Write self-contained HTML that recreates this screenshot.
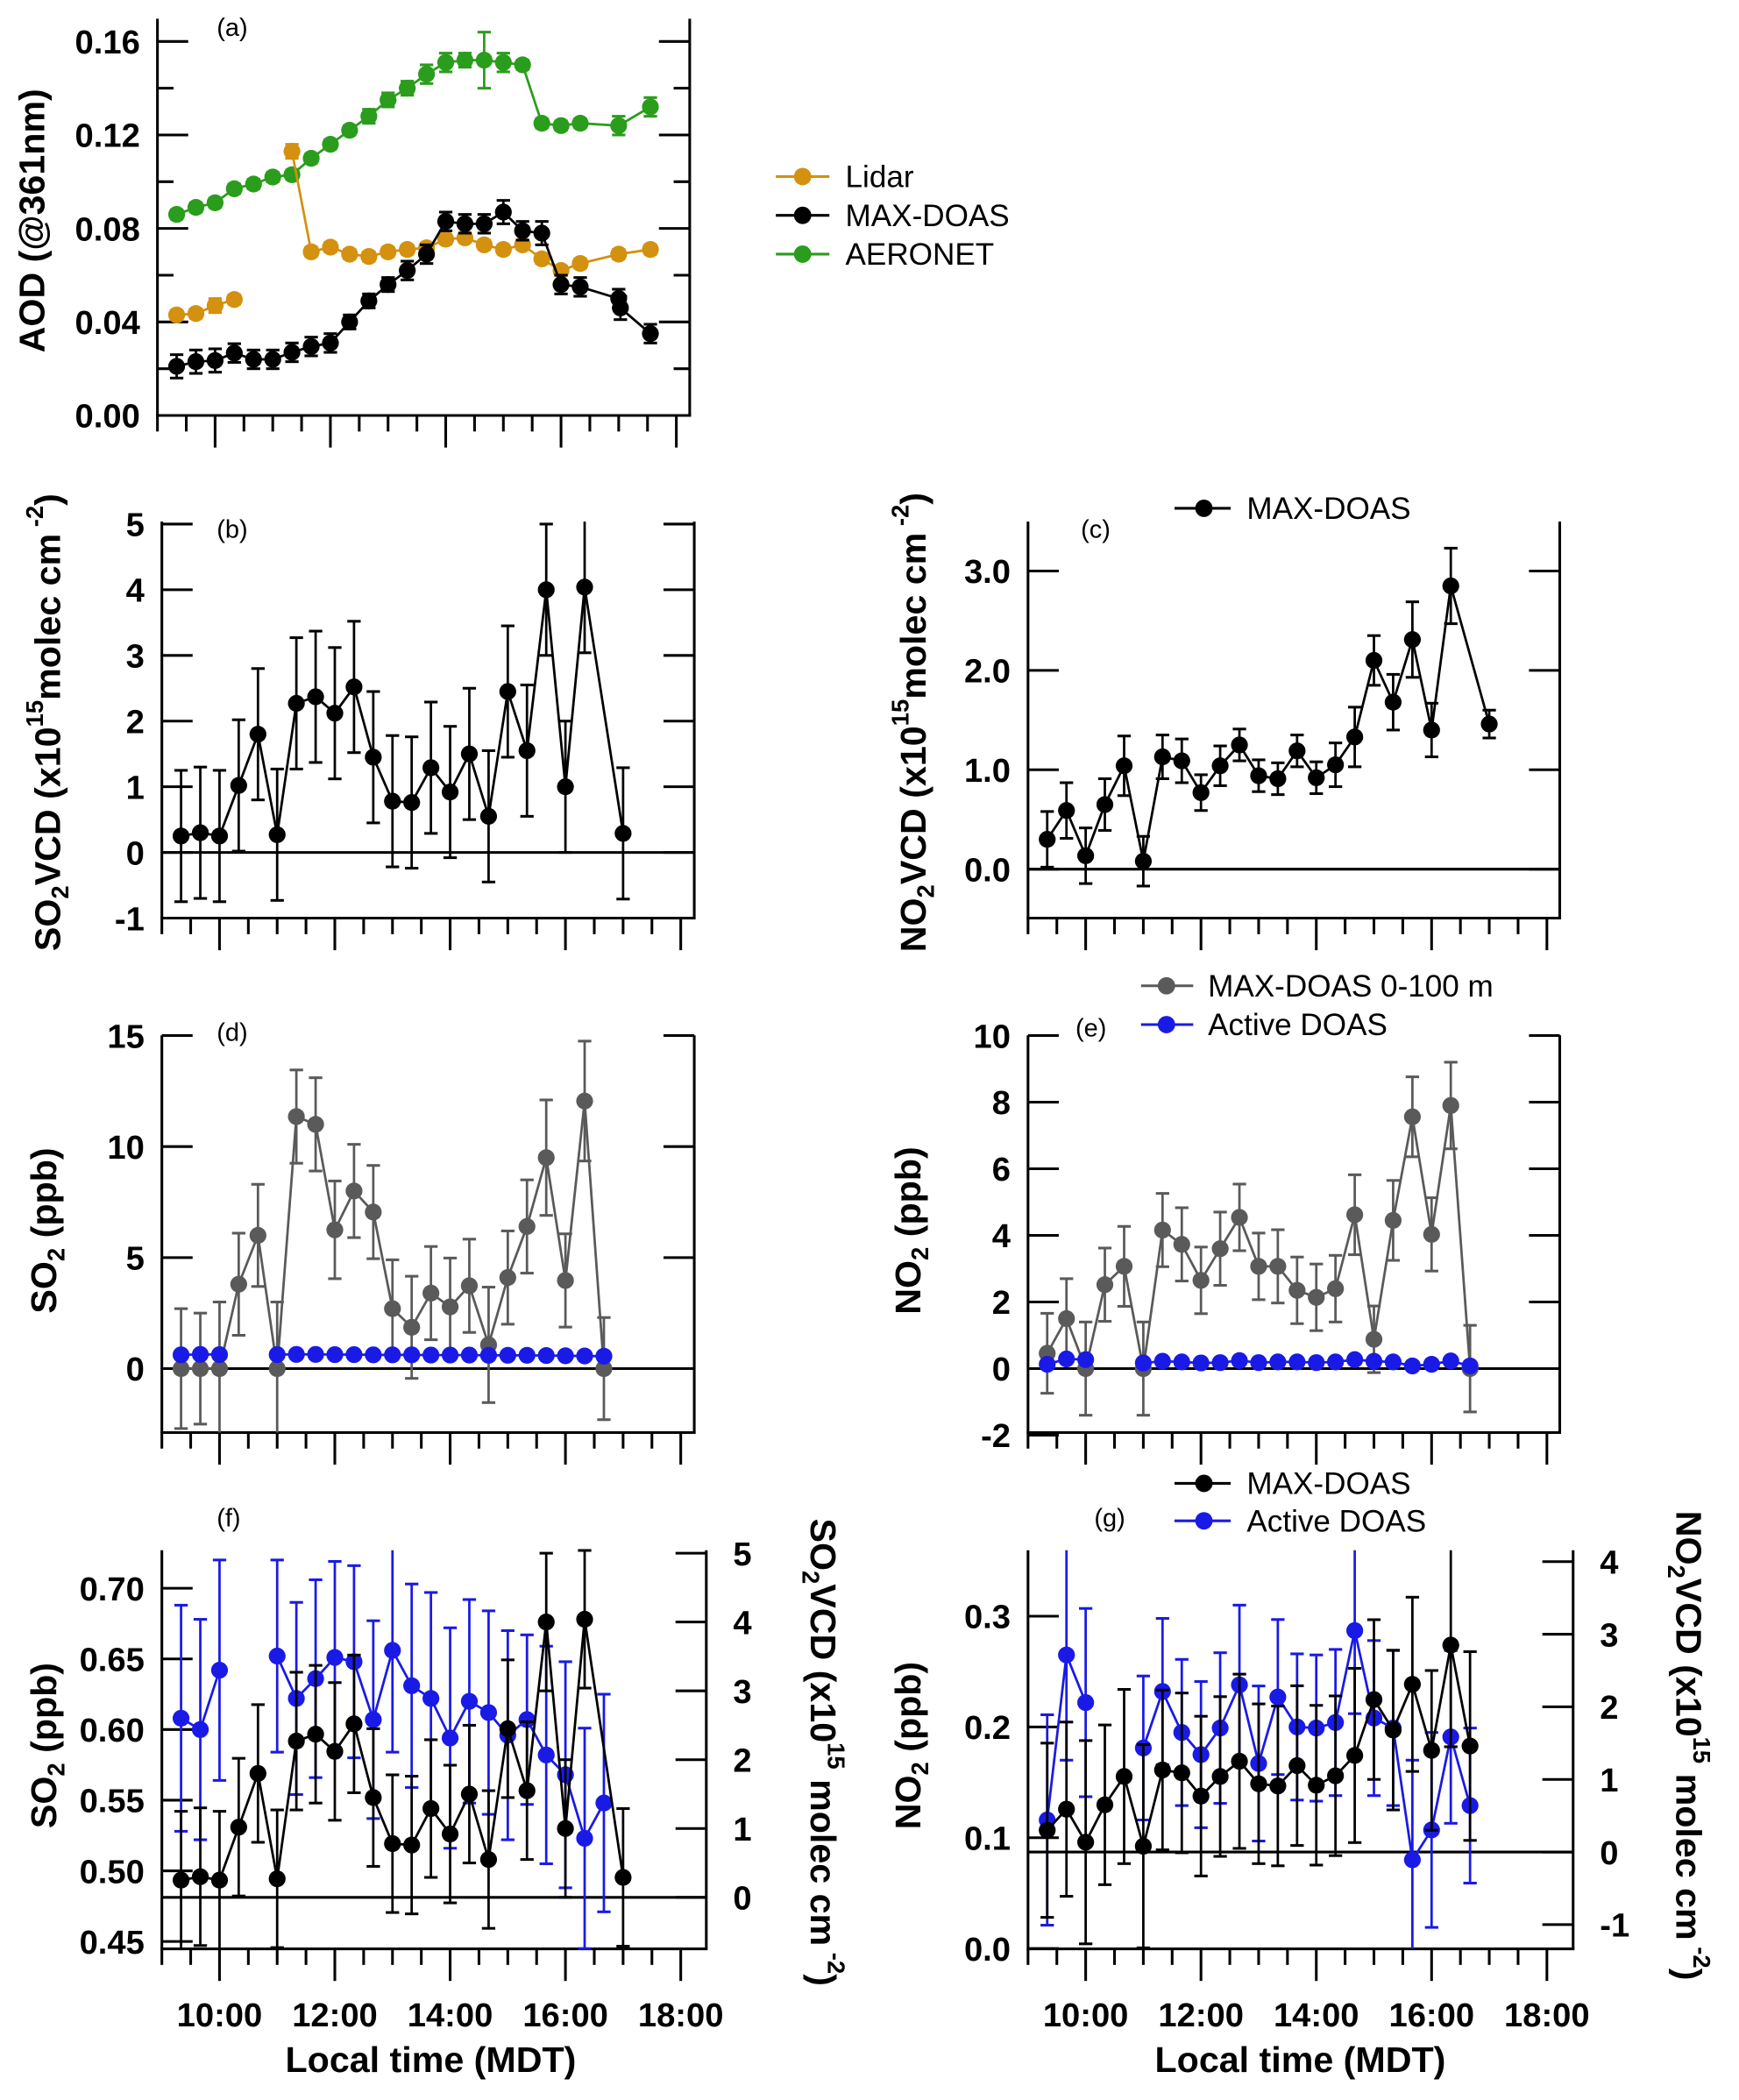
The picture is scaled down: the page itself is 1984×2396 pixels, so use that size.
<!DOCTYPE html>
<html><head><meta charset="utf-8"><title>AOD, SO2 and NO2 time series (panels a–g)</title>
<style>
html,body{margin:0;padding:0;background:#fff;}
svg{display:block;font-family:"Liberation Sans",Arial,sans-serif;}
.tk{font-weight:bold;font-size:25px;}
.ttl{font-weight:bold;font-size:27px;}
.lg{font-size:23px;}
.pl{font-size:19px;}
</style></head>
<body>
<svg id="fig" width="1984" height="2396" viewBox="0 0 1300 1570" preserveAspectRatio="none" xmlns="http://www.w3.org/2000/svg">
<rect x="0" y="0" width="1300" height="1570" fill="#fff"/>
<g id="marks"></g>

<text class="pl" x="162" y="27">(a)</text>
<text class="pl" x="162" y="402">(b)</text>
<text class="pl" x="808" y="402">(c)</text>
<text class="pl" x="162" y="778">(d)</text>
<text class="pl" x="804" y="775">(e)</text>
<text class="pl" x="162" y="1141">(f)</text>
<text class="pl" x="818" y="1141">(g)</text>

<text class="ttl" transform="translate(33,165) rotate(-90)" text-anchor="middle">AOD (@361nm)</text>
<text class="ttl" transform="translate(45,540) rotate(-90)" text-anchor="middle">SO<tspan font-size="18" dy="6">2</tspan><tspan dy="-6">VCD (x10</tspan><tspan font-size="18" dy="-13">15</tspan><tspan dy="13">molec cm</tspan><tspan font-size="18" dy="-13"> -2</tspan><tspan dy="13">)</tspan></text>
<text class="ttl" transform="translate(692,540) rotate(-90)" text-anchor="middle">NO<tspan font-size="18" dy="6">2</tspan><tspan dy="-6">VCD (x10</tspan><tspan font-size="18" dy="-13">15</tspan><tspan dy="13">molec cm</tspan><tspan font-size="18" dy="-13"> -2</tspan><tspan dy="13">)</tspan></text>
<text class="ttl" transform="translate(42,920) rotate(-90)" text-anchor="middle">SO<tspan font-size="18" dy="6">2</tspan><tspan dy="-6"> (ppb)</tspan></text>
<text class="ttl" transform="translate(688,920) rotate(-90)" text-anchor="middle">NO<tspan font-size="18" dy="6">2</tspan><tspan dy="-6"> (ppb)</tspan></text>
<text class="ttl" transform="translate(42,1305) rotate(-90)" text-anchor="middle">SO<tspan font-size="18" dy="6">2</tspan><tspan dy="-6"> (ppb)</tspan></text>
<text class="ttl" transform="translate(606,1310) rotate(90)" text-anchor="middle">SO<tspan font-size="18" dy="6">2</tspan><tspan dy="-6">VCD (x10</tspan><tspan font-size="18" dy="-13">15</tspan><tspan dy="13"> molec cm</tspan><tspan font-size="18" dy="-13"> -2</tspan><tspan dy="13">)</tspan></text>
<text class="ttl" transform="translate(688,1305) rotate(-90)" text-anchor="middle">NO<tspan font-size="18" dy="6">2</tspan><tspan dy="-6"> (ppb)</tspan></text>
<text class="ttl" transform="translate(1253,1305) rotate(90)" text-anchor="middle">NO<tspan font-size="18" dy="6">2</tspan><tspan dy="-6">VCD (x10</tspan><tspan font-size="18" dy="-13">15</tspan><tspan dy="13"> molec cm</tspan><tspan font-size="18" dy="-13"> -2</tspan><tspan dy="13">)</tspan></text>
<text class="ttl" x="322" y="1549" font-size="26" text-anchor="middle">Local  time (MDT)</text>
<text class="ttl" x="972" y="1549" font-size="26" text-anchor="middle">Local  time (MDT)</text>

<g>
 <line x1="580" y1="132" x2="620" y2="132" stroke="#d4900f" stroke-width="2"/><circle cx="600" cy="132" r="6.5" fill="#d4900f"/>
 <text class="lg" x="632" y="140">Lidar</text>
 <line x1="580" y1="161" x2="620" y2="161" stroke="#000" stroke-width="2"/><circle cx="600" cy="161" r="6.5" fill="#000"/>
 <text class="lg" x="632" y="169">MAX-DOAS</text>
 <line x1="580" y1="190" x2="620" y2="190" stroke="#2a9d1c" stroke-width="2"/><circle cx="600" cy="190" r="6.5" fill="#2a9d1c"/>
 <text class="lg" x="632" y="198">AERONET</text>
</g>
<g>
 <line x1="878" y1="380" x2="920" y2="380" stroke="#000" stroke-width="2"/><circle cx="900" cy="380" r="6.5" fill="#000"/>
 <text class="lg" x="932" y="388">MAX-DOAS</text>
</g>
<g>
 <line x1="853" y1="737" x2="892" y2="737" stroke="#5a5a5a" stroke-width="2"/><circle cx="872" cy="737" r="6.5" fill="#5a5a5a"/>
 <text class="lg" x="903" y="745">MAX-DOAS 0-100 m</text>
 <line x1="853" y1="766" x2="892" y2="766" stroke="#1a1ae6" stroke-width="2"/><circle cx="872" cy="766" r="6.5" fill="#1a1ae6"/>
 <text class="lg" x="903" y="774">Active DOAS</text>
</g>
<g>
 <line x1="878" y1="1109" x2="920" y2="1109" stroke="#000" stroke-width="2"/><circle cx="900" cy="1109" r="6.5" fill="#000"/>
 <text class="lg" x="932" y="1117">MAX-DOAS</text>
 <line x1="878" y1="1137" x2="920" y2="1137" stroke="#1a1ae6" stroke-width="2"/><circle cx="900" cy="1137" r="6.5" fill="#1a1ae6"/>
 <text class="lg" x="932" y="1145">Active DOAS</text>
</g>
</svg>

<script>
const T22 = [9.333,9.667,10,10.333,10.667,11,11.333,11.667,12,12.333,12.667,13,13.333,13.667,14,14.333,14.667,15,15.333,15.667,16,16.333];
const T23 = T22.concat([16.667]);
const aMaxT = T22.concat([17.0,17.03,17.55]);
const aMaxV = [0.021,0.023,0.0235,0.0267,0.024,0.024,0.027,0.0295,0.031,0.040,0.049,0.056,0.062,0.069,0.083,0.082,0.082,0.087,0.079,0.078,0.056,0.055,0.050,0.046,0.035];
const aMaxE = [0.005,0.005,0.005,0.004,0.004,0.004,0.004,0.004,0.004,0.003,0.003,0.003,0.004,0.004,0.004,0.004,0.004,0.005,0.004,0.005,0.004,0.004,0.004,0.005,0.004];
const aAerT = T22.concat([17.0,17.55]);
const aAerV = [0.086,0.089,0.091,0.097,0.099,0.102,0.103,0.110,0.116,0.122,0.128,0.135,0.140,0.146,0.151,0.152,0.152,0.151,0.150,0.125,0.124,0.125,0.124,0.132];
const aAerE = [0.002,0.002,0.002,0.002,0.002,0.002,0.002,0.002,0.002,0.002,0.003,0.003,0.003,0.004,0.004,0.003,0.012,0.004,0.002,0.002,0.002,0.002,0.004,0.004];
const aLidT = T22.concat([17.0,17.55]);
const aLidV = [0.043,0.0436,0.047,0.0496,null,null,0.113,0.070,0.072,0.069,0.068,0.070,0.071,0.0717,0.0754,0.076,0.073,0.071,0.073,0.067,0.062,0.065,0.069,0.071];
const aLidE = [0.002,0.002,0.003,0.002,0,0,0.003,0.002,0.002,0.002,0.002,0.002,0.002,0.002,0.002,0.002,0.002,0.002,0.002,0.002,0.002,0.002,0.002,0.002];
const bT = T22.concat([17.0]);
const bV = [0.25,0.3,0.25,1.02,1.8,0.27,2.27,2.37,2.12,2.52,1.45,0.78,0.76,1.29,0.92,1.5,0.55,2.45,1.55,4.0,1.0,4.04,0.29];
const bE = [1.0,1.0,1.0,1.0,1.0,1.0,1.0,1.0,1.0,1.0,1.0,1.0,1.0,1.0,1.0,1.0,1.0,1.0,1.0,1.0,1.0,1.0,1.0];
const cT = T22.concat([17.0]);
const cV = [0.30,0.59,0.135,0.65,1.04,0.08,1.13,1.09,0.77,1.04,1.25,0.94,0.91,1.19,0.92,1.05,1.33,2.10,1.68,2.31,1.40,2.85,1.46];
const cE = [0.28,0.28,0.28,0.26,0.3,0.25,0.22,0.22,0.18,0.2,0.16,0.16,0.16,0.16,0.16,0.22,0.3,0.25,0.28,0.38,0.27,0.38,0.14];
const dGrayV = [0,0,0,3.8,6.0,0,11.35,11.0,6.25,8.0,7.05,2.7,1.86,3.4,2.78,3.73,1.07,4.1,6.4,9.5,3.97,12.05,0];
const dGrayE = [2.7,2.5,3.0,2.3,2.3,3.0,2.1,2.1,2.2,2.1,2.1,2.2,2.3,2.1,2.2,2.1,2.6,2.1,2.1,2.6,2.1,2.7,2.3];
const dBlueV = [0.62,0.64,0.63,null,null,0.63,0.64,0.64,0.63,0.63,0.62,0.62,0.62,0.61,0.61,0.61,0.6,0.6,0.6,0.59,0.58,0.57,0.56];
const eGrayV = [0.46,1.5,0.0,2.52,3.07,0,4.16,3.73,2.65,3.6,4.54,3.07,3.07,2.35,2.14,2.4,4.62,0.88,4.45,7.56,4.03,7.9,0];
const eGrayE = [1.2,1.2,1.4,1.1,1.2,1.4,1.1,1.1,1.0,1.1,1.0,1.0,1.1,1.0,1.0,1.0,1.2,1.0,1.2,1.2,1.1,1.3,1.3];
const eBlueV = [0.13,0.29,0.27,null,null,0.17,0.22,0.2,0.17,0.18,0.24,0.18,0.2,0.2,0.18,0.2,0.27,0.22,0.2,0.08,0.13,0.23,0.08];
const fBlueV = [0.608,0.600,0.642,null,null,0.652,0.622,0.636,0.651,0.648,0.607,0.656,0.631,0.622,0.594,0.620,0.612,0.596,0.607,0.582,0.568,0.523,0.548];
const fBlueE = [0.08,0.078,0.078,0,0,0.068,0.068,0.07,0.068,0.068,0.07,0.072,0.072,0.075,0.078,0.072,0.072,0.074,0.06,0.077,0.08,0.078,0.077];
const gBlackV = [0.30,0.59,0.135,0.65,1.04,0.08,1.13,1.09,0.77,1.04,1.25,0.94,0.91,1.19,0.92,1.05,1.33,2.10,1.68,2.31,1.40,2.85,1.46];
const gBlackE = [1.2,1.2,1.4,1.1,1.2,1.4,1.1,1.1,1.1,1.1,1.2,1.1,1.1,1.1,1.1,1.1,1.2,1.1,1.1,1.2,1.1,1.4,1.3];
const gBlueV = [0.116,0.265,0.222,null,null,0.181,0.232,0.195,0.175,0.199,0.238,0.167,0.227,0.200,0.199,0.204,0.287,0.208,0.199,0.080,0.107,0.191,0.129];
const gBlueE = [0.095,0.095,0.085,0,0,0.065,0.066,0.066,0.066,0.068,0.072,0.07,0.07,0.066,0.066,0.066,0.075,0.07,0.07,0.09,0.088,0.078,0.07];
const aTicks = [0,0.04,0.08,0.12,0.16], aTickLbl = ["0.00","0.04","0.08","0.12","0.16"];
const bTicks = [-1,0,1,2,3,4,5];
const cTicks = [0,1,2,3], cTickLbl = ["0.0","1.0","2.0","3.0"];
const dTicks = [0,5,10,15];
const eTicks = [-2,0,2,4,6,8,10];
const fLTicks = [0.45,0.50,0.55,0.60,0.65,0.70], fLLbl = ["0.45","0.50","0.55","0.60","0.65","0.70"];
const fRTicks = [0,1,2,3,4,5];
const gLTicks = [0,0.1,0.2,0.3], gLLbl = ["0.0","0.1","0.2","0.3"];
const gRTicks = [-1,0,1,2,3,4];
const xMajor = [10,12,14,16,18], xMajorLbl = ["10:00","12:00","14:00","16:00","18:00"];

const NS = "http://www.w3.org/2000/svg";
const root = document.getElementById('marks');
function mk(tag, attrs, parent){
  const el = document.createElementNS(NS, tag);
  for (const k in attrs) el.setAttribute(k, attrs[k]);
  (parent || root).appendChild(el);
  return el;
}
function lin(v1,p1,v2,p2){ return v => p1 + (v - v1) * (p2 - p1) / (v2 - v1); }
const PXH = 43.1;

function panel(id, x9, xR, yTop, yBot, yl, yr){
  const P = {id, x9, xR, yTop, yBot, yl, yr};
  P.xs = t => x9 + (t - 9) * PXH;
  const g = mk('g', {});
  
  
  P.g = g;
  let el = mk('line', {x1:x9, y1:yTop, x2:x9, y2:yBot, stroke:'#000', 'stroke-width':2}, g);
  
  
  el = mk('line', {x1:xR, y1:yTop, x2:xR, y2:yBot, stroke:'#000', 'stroke-width':2}, g);
  
  
  el = mk('line', {x1:x9-1, y1:yBot, x2:xR+1, y2:yBot, stroke:'#000', 'stroke-width':2}, g);
  
  
  for (let t = 9; t <= 18.01; t += 0.5){
    const maj = Math.abs(t - Math.round(t)) < 0.01 && Math.round(t) % 2 === 0;
    const x = P.xs(t);
    el = mk('line', {x1:x, y1:yBot, x2:x, y2:yBot + (maj ? 24 : 12), stroke:'#000', 'stroke-width':2}, g);
    
    
  }
  return P;
}
function yTicks(P, scale, vals, labels, side, mirror, minors){
  const xa = side === 'l' ? P.x9 : P.xR;
  const dir = side === 'l' ? 1 : -1;
  vals.forEach((v, i) => {
    const y = scale(v);
    let el = mk('line', {x1:xa, y1:y, x2:xa + dir*23, y2:y, stroke:'#000', 'stroke-width':2}, P.g);
    
    
    if (mirror && Math.abs(y - P.yBot) > 3){
      el = mk('line', {x1:P.xR, y1:y, x2:P.xR - 23, y2:y, stroke:'#000', 'stroke-width':2}, P.g);
      
      
    }
    if (labels){
      const t = mk('text', {x: side==='l' ? xa - 13 : xa + 20, y: y, dy:'0.36em', 'text-anchor': side==='l' ? 'end' : 'start', class:'tk'}, P.g);
      t.textContent = labels[i];
      
      
    }
  });
  (minors || []).forEach(v => {
    const y = scale(v);
    let el = mk('line', {x1:P.x9, y1:y, x2:P.x9 + 12, y2:y, stroke:'#000', 'stroke-width':2}, P.g);
    
    
    el = mk('line', {x1:P.xR, y1:y, x2:P.xR - 12, y2:y, stroke:'#000', 'stroke-width':2}, P.g);
    
    
  });
}
function hline(P, scale, v){
  const el = mk('line', {x1:P.x9, y1:scale(v), x2:P.xR, y2:scale(v), stroke:'#000', 'stroke-width':2}, P.g);
  
  
}
function xLabels(P){
  xMajor.forEach((t, i) => {
    const el = mk('text', {x:P.xs(t), y:1515, 'text-anchor':'middle', class:'tk', 'font-size':26}, P.g);
    el.textContent = xMajorLbl[i];
    
    
  });
}
function series(P, scale, ts, vs, es, color, name){
  const g = mk('g', {}, P.g);
  
  
  let d = '', pen = false;
  ts.forEach((t, i) => {
    const v = vs[i];
    if (v === null || v === undefined){ pen = false; return; }
    d += (pen ? 'L' : 'M') + P.xs(t).toFixed(2) + ',' + scale(v).toFixed(2);
    pen = true;
  });
  const ln = mk('path', {d:d, fill:'none', stroke:color, 'stroke-width':1.8}, g);
  
  
  ts.forEach((t, i) => {
    const v = vs[i];
    if (v === null || v === undefined) return;
    const x = P.xs(t);
    if (es && es[i]){
      let y1 = scale(v + es[i]), y2 = scale(v - es[i]);
      const c1 = y1 >= P.yTop, c2 = y2 <= P.yBot;
      y1 = Math.max(y1, P.yTop); y2 = Math.min(y2, P.yBot);
      const eb = mk('line', {x1:x, y1:y1, x2:x, y2:y2, stroke:color, 'stroke-width':1.8}, g);
      
      
      if (c1){
        const cp = mk('line', {x1:x-5, y1:y1, x2:x+5, y2:y1, stroke:color, 'stroke-width':2}, g);
        
        
      }
      if (c2){
        const cp = mk('line', {x1:x-5, y1:y2, x2:x+5, y2:y2, stroke:color, 'stroke-width':2}, g);
        
        
      }
    }
    const c = mk('circle', {cx:x, cy:scale(v), r:6.3, fill:color}, g);
    
    
  });
}

const BLK = '#000', GRN = '#2a9d1c', ORG = '#d4900f', GRY = '#5a5a5a', BLU = '#1a1ae6';

const A = panel('a', 117.7, 515.6, 14, 310.6, lin(0,310.6,0.16,31));
yTicks(A, A.yl, aTicks, aTickLbl, 'l', true, [0.02,0.06,0.10,0.14]);
series(A, A.yl, aAerT, aAerV, aAerE, GRN, 'aeronet');
series(A, A.yl, aLidT, aLidV, aLidE, ORG, 'lidar');
series(A, A.yl, aMaxT, aMaxV, aMaxE, BLK, 'maxdoas-aod');

const B = panel('b', 121, 519, 390, 686.4, lin(0,637.3,5,391.8));
yTicks(B, B.yl, bTicks, bTicks.map(String), 'l', true);
hline(B, B.yl, 0);
series(B, B.yl, bT, bV, bE, BLK, 'so2-vcd');

const C = panel('c', 768.5, 1166, 390, 686.4, lin(0,649.8,3,426.9));
yTicks(C, C.yl, cTicks, cTickLbl, 'l', true);
hline(C, C.yl, 0);
series(C, C.yl, cT, cV, cE, BLK, 'no2-vcd');

const D = panel('d', 121, 519, 774, 1071, lin(0,1023.2,15,774.2));
yTicks(D, D.yl, dTicks, dTicks.map(String), 'l', true);
hline(D, D.yl, 0);
series(D, D.yl, T23, dGrayV, dGrayE, GRY, 'so2-maxdoas-0-100m');
series(D, D.yl, T23, dBlueV, null, BLU, 'so2-active-doas');

const E = panel('e', 768.5, 1166, 774, 1071, lin(0,1023.2,10,774.2));
yTicks(E, E.yl, eTicks, eTicks.map(String), 'l', true);
hline(E, E.yl, 0);
series(E, E.yl, T23, eGrayV, eGrayE, GRY, 'no2-maxdoas-0-100m');
series(E, E.yl, T23, eBlueV, null, BLU, 'no2-active-doas');

const F = panel('f', 121, 528, 1159, 1457, lin(0.45,1451.5,0.70,1187.4), lin(0,1418.5,5,1161.2));
yTicks(F, F.yl, fLTicks, fLLbl, 'l', false);
yTicks(F, F.yr, fRTicks, fRTicks.map(String), 'r', false);
hline(F, F.yr, 0);
xLabels(F);
series(F, F.yl, T23, fBlueV, fBlueE, BLU, 'so2-active-doas-f');
series(F, F.yr, bT, bV, bE, BLK, 'so2-vcd-f');

const G = panel('g', 768.5, 1176, 1159, 1457, lin(0,1456.7,0.3,1208.3), lin(0,1384.6,4,1167.5));
yTicks(G, G.yl, gLTicks, gLLbl, 'l', false);
yTicks(G, G.yr, gRTicks, gRTicks.map(String), 'r', false);
hline(G, G.yr, 0);
xLabels(G);
series(G, G.yl, T23, gBlueV, gBlueE, BLU, 'no2-active-doas-g');
series(G, G.yr, T23, gBlackV, gBlackE, BLK, 'no2-vcd-g');
</script>
</body></html>
